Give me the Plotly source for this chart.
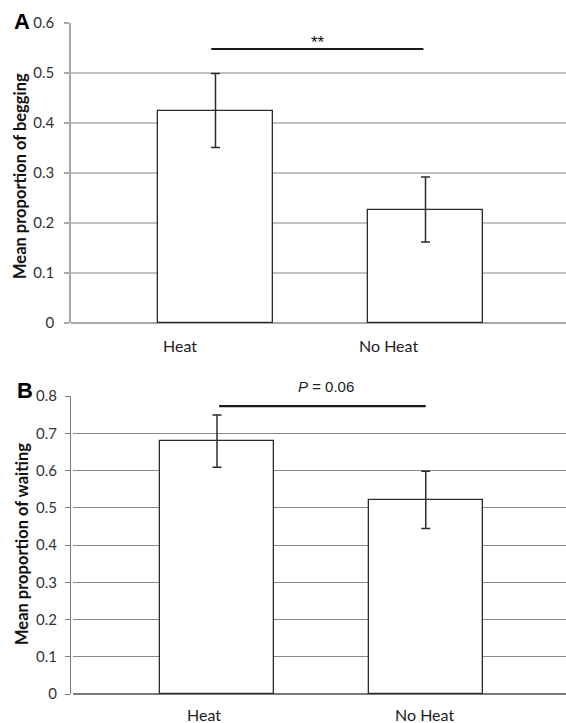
import plotly.graph_objects as go

# ---- data ----
categories = ["Heat", "No Heat"]
begging_mean = [0.425, 0.227]
begging_err = [0.074, 0.065]
waiting_mean = [0.679, 0.521]
waiting_err = [0.070, 0.077]
sig_a_x = [-0.02, 0.99]
sig_a_y = [0.548, 0.548]
sig_a_text = "**"
sig_b_x = [0.01, 1.0]
sig_b_y = [0.773, 0.773]
sig_b_text = "<i>P</i> = 0.06"
yticks_a = [0, 0.1, 0.2, 0.3, 0.4, 0.5, 0.6]
yticks_b = [0, 0.1, 0.2, 0.3, 0.4, 0.5, 0.6, 0.7, 0.8]
ytick_text_a = ["0", "0.1", "0.2", "0.3", "0.4", "0.5", "0.6"]
ytick_text_b = ["0", "0.1", "0.2", "0.3", "0.4", "0.5", "0.6", "0.7", "0.8"]

W, H = 566, 723
FONT = "Lato"
idx = list(range(len(categories)))

fig = go.Figure()

def add_panel(means, errs, xa, ya, width):
    fig.add_trace(go.Bar(
        x=idx, y=means, width=width,
        marker=dict(color="white", line=dict(color="#2b2b2b", width=1.3)),
        error_y=dict(type="data", array=errs, visible=True, color="#2b2b2b",
                     thickness=1.5, width=4.5),
        xaxis=xa, yaxis=ya, showlegend=False, hoverinfo="skip"))

add_panel(begging_mean, begging_err, "x", "y", 0.552)
add_panel(waiting_mean, waiting_err, "x2", "y2", 0.548)

fig.add_trace(go.Scatter(x=sig_a_x, y=sig_a_y, mode="lines",
                         line=dict(color="#1a1a1a", width=2.2),
                         xaxis="x", yaxis="y", showlegend=False, hoverinfo="skip"))
fig.add_trace(go.Scatter(x=sig_b_x, y=sig_b_y, mode="lines",
                         line=dict(color="#1a1a1a", width=2.2),
                         xaxis="x2", yaxis="y2", showlegend=False, hoverinfo="skip"))

tickfont = dict(family=FONT, size=15, color="#333")

fig.update_layout(
    width=W, height=H,
    margin=dict(l=0, r=0, t=0, b=0, autoexpand=False),
    paper_bgcolor="white", plot_bgcolor="white",
    bargap=0,
    xaxis=dict(domain=[71 / W, 1], range=[-0.688, 1.669], showgrid=False,
               zeroline=False, showticklabels=False, ticks="", automargin=False,
               showline=False, fixedrange=True),
    yaxis=dict(domain=[1 - 323 / H, 1 - 23 / H], range=[0, 0.6], automargin=False,
               tickmode="array", tickvals=yticks_a, ticktext=ytick_text_a,
               showgrid=True, gridcolor="#c2c2c2", gridwidth=2,
               zeroline=True, zerolinecolor="#a8a8a8", zerolinewidth=2,
               showline=True, linecolor="#a8a8a8", linewidth=1.5,
               ticks="outside", ticklen=5, tickcolor="#a8a8a8", tickwidth=1.5,
               ticklabelstandoff=7, tickfont=tickfont, fixedrange=True),
    xaxis2=dict(domain=[73 / W, 1], range=[-0.690, 1.672], showgrid=False,
                zeroline=False, showticklabels=False, ticks="", automargin=False,
                showline=False, fixedrange=True),
    yaxis2=dict(domain=[1 - 694 / H, 1 - 396 / H], range=[0, 0.8], automargin=False,
                tickmode="array", tickvals=yticks_b, ticktext=ytick_text_b,
                showgrid=True, gridcolor="#8a8a8a", gridwidth=1,
                zeroline=True, zerolinecolor="#7a7a7a", zerolinewidth=1.5,
                showline=True, linecolor="#7a7a7a", linewidth=1.2,
                ticks="outside", ticklen=5, tickcolor="#7a7a7a", tickwidth=1.2,
                ticklabelstandoff=5, tickfont=tickfont, fixedrange=True),
)

ann = []
# x category labels (placed as in the reference, slightly left of bar centres)
label_shift_a = [-0.169, -0.177]
label_shift_b = [-0.063, -0.008]
for i, c in enumerate(categories):
    ann.append(dict(x=i + label_shift_a[i], y=1 - 345 / H, xref="x", yref="paper",
                    text=c, showarrow=False, xanchor="center", yanchor="middle",
                    font=dict(family=FONT, size=16, color="#222")))
    ann.append(dict(x=i + label_shift_b[i], y=1 - 714 / H, xref="x2", yref="paper",
                    text=c, showarrow=False, xanchor="center", yanchor="middle",
                    font=dict(family=FONT, size=16, color="#222")))

# significance texts
ann.append(dict(x=0.487, y=1 - 42 / H, xref="x", yref="paper", text=sig_a_text,
                showarrow=False, xanchor="center", yanchor="middle",
                font=dict(family="Liberation Sans", size=17, color="#111")))
ann.append(dict(x=0.52, y=1 - 386.7 / H, xref="x2", yref="paper", text=sig_b_text,
                showarrow=False, xanchor="center", yanchor="middle",
                font=dict(family="Liberation Sans", size=15, color="#222")))

# y-axis titles
ann.append(dict(x=20 / W, y=1 - 176 / H, xref="paper", yref="paper",
                text="<b>Mean proportion of begging</b>", textangle=-90,
                showarrow=False, xanchor="center", yanchor="middle",
                font=dict(family=FONT, size=16.5, color="#111")))
ann.append(dict(x=22 / W, y=1 - 544 / H, xref="paper", yref="paper",
                text="<b>Mean proportion of waiting</b>", textangle=-90,
                showarrow=False, xanchor="center", yanchor="middle",
                font=dict(family=FONT, size=16.5, color="#111")))

# panel letters
ann.append(dict(x=21.5 / W, y=1 - 21 / H, xref="paper", yref="paper", text="<b>A</b>",
                showarrow=False, xanchor="center", yanchor="middle",
                font=dict(family="Liberation Sans", size=22, color="#000")))
ann.append(dict(x=25 / W, y=1 - 390 / H, xref="paper", yref="paper", text="<b>B</b>",
                showarrow=False, xanchor="center", yanchor="middle",
                font=dict(family="Liberation Sans", size=22, color="#000")))

fig.update_layout(annotations=ann)
fig.write_html("out.html", config={"displayModeBar": False},
               post_script="document.body.style.margin='0';document.body.style.overflow='hidden';")
